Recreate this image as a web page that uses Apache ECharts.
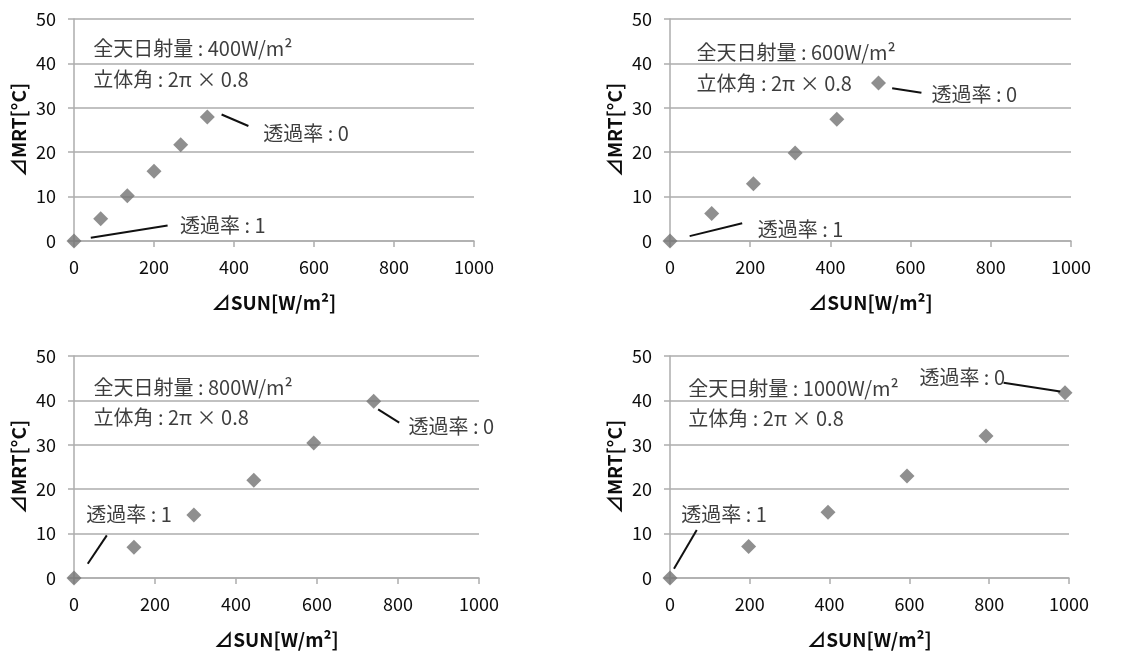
<!DOCTYPE html>
<html><head><meta charset="utf-8">
<script src="https://cdn.jsdelivr.net/npm/echarts@6/dist/echarts.min.js"></script>
<style>html,body{margin:0;background:#fff}#c{width:1148px;height:652px}</style>
</head><body><div id="c"></div><script>
// ---- data ----
const sun400 = [0, 66.7, 133.3, 200, 266.7, 333.3];
const mrt400 = [0, 5.0, 10.2, 15.7, 21.7, 27.9];
const sun600 = [0, 104, 208, 312, 416, 520];
const mrt600 = [0, 6.2, 12.9, 19.8, 27.4, 35.6];
const sun800 = [0, 148, 296, 444, 592, 740];
const mrt800 = [0, 6.9, 14.2, 22.0, 30.4, 39.8];
const sun1000 = [0, 197, 396, 594, 792, 990];
const mrt1000 = [0, 7.1, 14.8, 23.0, 32.0, 41.7];
const xTicks = [0, 200, 400, 600, 800, 1000];
const yTicks = [0, 10, 20, 30, 40, 50];
const totals = ['400', '600', '800', '1000'];
const line1 = t => '全天日射量 : ' + t + 'W/m²';
const line2 = '立体角 : 2π × 0.8';
const lbl0 = '透過率 : 0';
const lbl1 = '透過率 : 1';
const xName = '⊿SUN[W/m²]';
const yName = '⊿MRT[°C]';

// ---- annotation placement (data coords) ----
const notes = [
  {t1:[48,43.4], t2:[48,36.4], a0:[473,24.3], l0:[[369,28.5],[436,25.9]], a1:[265,3.6], l1:[[42,0.75],[234,3.5]]},
  {t1:[66,42.4], t2:[66,35.6], a0:[652,33.1], l0:[[554,34.4],[627,33.4]], a1:[219,2.5], l1:[[49,1.1],[180,4.0]]},
  {t1:[48,42.9], t2:[48,36.1], a0:[826,34.2], l0:[[751,38.0],[803,35.0]], a1:[30,14.4], l1:[[34,3.2],[81,9.6]]},
  {t1:[46,42.6], t2:[46,35.9], a0:[625,45.1], l0:[[836,44.0],[978,42.0]], a1:[28,14.4], l1:[[10,2.1],[67,10.8]]}
];

const sets = [[sun400,mrt400],[sun600,mrt600],[sun800,mrt800],[sun1000,mrt1000]];
const grids = [
  {left:74, top:19, width:400, height:222},
  {left:670, top:19, width:401, height:222},
  {left:74, top:356, width:405, height:222},
  {left:670, top:356, width:399, height:222}
];
const FONT = '"Noto Sans CJK JP", "Noto Sans", sans-serif';
const TXT = '#0d0d0d';
const GRID = '#adadad';

const xAxis = [], yAxis = [], series = [];
grids.forEach((g, i) => {
  xAxis.push({
    gridIndex:i, type:'value', min:xTicks[0], max:xTicks[xTicks.length-1], interval:xTicks[1]-xTicks[0],
    name:xName, nameLocation:'middle', nameGap:52,
    nameTextStyle:{fontFamily:FONT, fontSize:19, fontWeight:'bold', color:TXT},
    axisLine:{show:true, lineStyle:{color:GRID, width:1.5}},
    axisTick:{show:true, length:6, lineStyle:{color:GRID, width:1.5}},
    axisLabel:{fontFamily:FONT, fontSize:18, color:TXT, margin:17, formatter: v => String(v)},
    splitLine:{show:false}
  });
  yAxis.push({
    gridIndex:i, type:'value', min:yTicks[0], max:yTicks[yTicks.length-1], interval:yTicks[1]-yTicks[0],
    name:yName, nameLocation:'middle', nameGap:46, nameRotate:90,
    nameTextStyle:{fontFamily:FONT, fontSize:19, fontWeight:'bold', color:TXT},
    axisLine:{show:true, lineStyle:{color:GRID, width:1.5}},
    axisTick:{show:true, length:6, lineStyle:{color:GRID, width:1.5}},
    axisLabel:{fontFamily:FONT, fontSize:18, color:TXT, margin:18, formatter: v => String(v)},
    splitLine:{show:true, lineStyle:{color:GRID, width:1.5}}
  });
  const [xs, ys] = sets[i];
  series.push({
    type:'scatter', xAxisIndex:i, yAxisIndex:i, symbol:'diamond', symbolSize:15,
    itemStyle:{color:'#737373'}, z:3,
    data: xs.map((x, k) => [x, ys[k]])
  });
  const n = notes[i];
  series.push({
    type:'scatter', xAxisIndex:i, yAxisIndex:i, symbolSize:0, silent:true,
    label:{show:true, position:'right', distance:0, fontFamily:FONT, fontSize:20, color:TXT,
      formatter: p => p.name},
    data:[
      {name:line1(totals[i]), value:n.t1},
      {name:line2, value:n.t2},
      {name:lbl0, value:n.a0},
      {name:lbl1, value:n.a1}
    ],
    markLine:{
      silent:true, symbol:['none','none'], label:{show:false},
      lineStyle:{color:'#111', width:2, type:'solid'},
      data:[
        [{coord:n.l0[0]},{coord:n.l0[1]}],
        [{coord:n.l1[0]},{coord:n.l1[1]}]
      ]
    }
  });
});

const chart = echarts.init(document.getElementById('c'), null, {renderer:'canvas'});
chart.setOption({
  backgroundColor:'#fff', animation:false,
  grid: grids, xAxis, yAxis, series
});
</script></body></html>
